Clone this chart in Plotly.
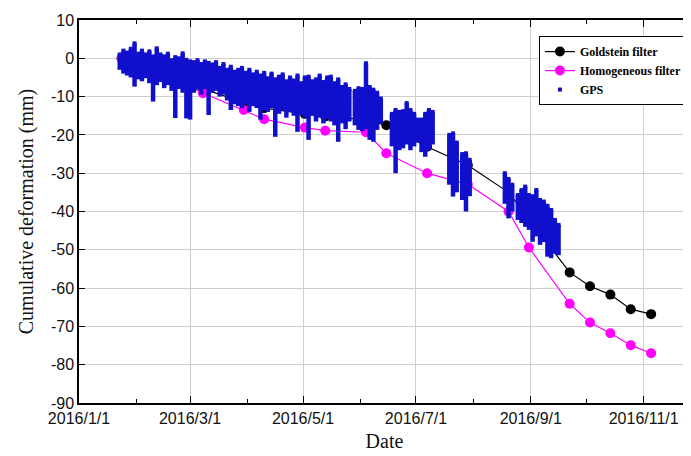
import pandas as pd
import plotly.graph_objects as go

# ---------------- data ----------------
sar_dates = ["2016-01-24", "2016-03-08", "2016-03-30", "2016-04-10", "2016-05-02",
             "2016-05-13", "2016-06-04", "2016-06-15", "2016-07-07", "2016-07-29",
             "2016-08-20", "2016-08-31", "2016-09-22", "2016-10-03", "2016-10-14",
             "2016-10-25", "2016-11-05"]
goldstein = [0.0, -8.0, -11.5, -13.0, -14.5, -15.2, -16.0, -17.5, -23.1, -27.9,
             -35.0, -42.0, -55.9, -59.5, -61.7, -65.5, -66.8]
homogeneous = [0.0, -9.1, -13.5, -15.9, -18.1, -18.9, -19.3, -24.8, -30.0, -32.9,
               -40.0, -49.4, -64.1, -69.0, -71.8, -74.9, -77.0]

# GPS daily spread: day offset from 2016-01-01, daily max and min (mm)
gps_day = [22, 24, 26, 28, 30, 32, 34, 36, 38, 40, 42, 44, 46, 48, 50, 52, 54, 56, 58, 60,
           62, 64, 66, 68, 70, 72, 74, 76, 78, 80, 82, 84, 86, 88, 90, 92, 94, 96, 98, 100,
           102, 104, 106, 108, 110, 112, 114, 116, 118, 120, 122, 124, 126, 128, 130, 132,
           134, 136, 138, 140, 142, 144, 146,
           149, 151, 153, 155, 157, 159, 161, 163,
           169, 171, 173, 175, 177, 179, 181, 183,
           185, 187, 189, 191,
           200, 202, 204, 207, 209, 211,
           230, 232, 234,
           237, 239, 241, 243, 245, 247, 249, 251, 253, 255, 257, 259]
gps_high = [1.0, 2.0, 1.5, 2.5, 3.9, 1.2, 2.0, 1.0, 1.8, 0.5, 2.6, 1.0, 0.5, 1.2, -0.5, 0.3,
            0.0, 1.3, -0.4, -0.8, -1.0, -0.5, -1.5, -0.8, -1.2, -1.6, -1.0, -2.5, -1.5, -3.0,
            -2.2, -3.5, -3.0, -2.5, -3.8, -3.0, -4.2, -3.5, -4.5, -3.8, -5.2, -4.0, -5.5, -4.8,
            -4.2, -6.0, -5.0, -5.8, -4.5, -6.5, -5.0, -4.8, -6.0, -5.5, -4.5, -6.2, -5.0, -4.8,
            -6.5, -5.5, -7.5, -6.8, -8.0,
            -8.5, -7.8, -8.0, -1.3, -7.5, -8.2, -9.0, -10.5,
            -14.5, -13.5, -14.0, -13.8, -11.7, -13.5, -14.5, -16.0,
            -16.0, -14.5, -13.5, -14.0,
            -20.0, -19.6, -22.0, -25.0, -24.8, -26.5,
            -30.0, -31.5, -33.0,
            -35.7, -34.4, -33.5, -35.7, -36.0, -34.4, -37.0, -37.4, -38.5, -39.6, -42.2, -43.5]
gps_low = [-3.0, -4.0, -4.5, -5.0, -7.4, -5.5, -6.0, -5.2, -6.5, -11.3, -7.0, -6.2, -7.8, -7.0,
           -8.5, -15.6, -8.0, -9.0, -15.7, -16.0, -9.0, -8.2, -9.5, -8.0, -14.8, -9.0, -8.5,
           -10.0, -9.5, -11.0, -13.5, -12.0, -12.5, -13.0, -12.0, -14.0, -12.5, -13.0, -16.0,
           -13.5, -14.0, -13.0, -20.5, -14.5, -13.5, -15.5, -14.0, -15.0, -19.2, -14.8, -15.5,
           -21.3, -15.0, -16.5, -15.5, -17.0, -15.8, -16.5, -17.5, -21.8, -17.0, -18.5, -16.5,
           -17.5, -18.7, -19.0, -18.5, -21.3, -21.8, -18.7, -17.0,
           -23.0, -30.0, -24.0, -23.5, -22.5, -24.0, -23.0, -22.0,
           -24.5, -25.7, -24.0, -22.5,
           -33.0, -36.1, -35.0, -37.0, -40.0, -36.0,
           -38.0, -41.8, -40.0,
           -42.2, -43.0, -44.0, -44.8, -47.9, -46.5, -48.7, -48.0, -51.8, -52.2, -51.0, -51.4]

x_tick_vals = ["2016-01-01", "2016-03-01", "2016-05-01", "2016-07-01", "2016-09-01", "2016-11-01"]
x_tick_text = ["2016/1/1", "2016/3/1", "2016/5/1", "2016/7/1", "2016/9/1", "2016/11/1"]
x_minor_vals = ["2016-02-01", "2016-04-01", "2016-06-01", "2016-08-01", "2016-10-01"]
y_tick_vals = [10, 0, -10, -20, -30, -40, -50, -60, -70, -80, -90]
y_tick_text = ["10", "0", "-10", "-20", "-30", "-40", "-50", "-60", "-70", "-80", "-90"]

# ---------------- figure ----------------
start = pd.Timestamp("2016-01-01")
gps_dates = [start + pd.Timedelta(days=d) for d in gps_day]
gps_span = [h - l for h, l in zip(gps_high, gps_low)]

BLUE = "#1010CC"
MAG = "#FF00FF"

fig = go.Figure()
fig.add_trace(go.Scatter(
    x=sar_dates, y=goldstein, name="<b>Goldstein filter</b>", mode="lines+markers",
    line=dict(color="black", width=1.2),
    marker=dict(color="black", size=10)))
fig.add_trace(go.Scatter(
    x=sar_dates, y=homogeneous, name="<b>Homogeneous filter</b>", mode="lines+markers",
    line=dict(color=MAG, width=1.2),
    marker=dict(color=MAG, size=10)))
fig.add_trace(go.Scatter(
    x=gps_dates, y=gps_high, name="<b>GPS</b>", mode="markers",
    marker=dict(color=BLUE, size=4, symbol="square"),
    error_y=dict(type="data", symmetric=False, array=[0] * len(gps_high),
                 arrayminus=gps_span, color=BLUE, thickness=4.5, width=0)))

tick_font = dict(family="Liberation Sans, Arial", size=16, color="#111")
title_font = dict(family="Liberation Serif, Times New Roman", size=20, color="#111")

# page body has an 8px margin, so the figure is sized/margined to land the
# plot area where the reference has it
fig.update_layout(
    width=683, height=448,
    margin=dict(l=71, r=1, t=12, b=53),
    paper_bgcolor="white", plot_bgcolor="white",
    showlegend=True,
    legend=dict(
        x=0.995, y=0.958, xanchor="right", yanchor="top",
        bgcolor="white", bordercolor="black", borderwidth=1,
        font=dict(family="Liberation Serif, Times New Roman", size=12, color="black"),
        tracegroupgap=0, itemwidth=30),
)
fig.update_xaxes(
    type="date", range=["2016-01-01", "2016-11-26"], automargin=False,
    tickmode="array", tickvals=x_tick_vals, ticktext=x_tick_text,
    ticks="inside", ticklen=7, tickwidth=1.2, tickcolor="black",
    minor=dict(tickmode="array", tickvals=x_minor_vals,
               ticks="inside", ticklen=4, tickcolor="black", showgrid=False),
    showline=True, linecolor="black", linewidth=1.5, mirror="ticks",
    showgrid=True, gridcolor="#cfcfcf", gridwidth=1,
    tickfont=tick_font, zeroline=False,
    title=dict(text="Date", font=title_font, standoff=8),
)
fig.update_yaxes(
    range=[-90, 10], automargin=False,
    tickmode="array", tickvals=y_tick_vals, ticktext=y_tick_text,
    ticks="inside", ticklen=6, tickwidth=1.2, tickcolor="black",
    showline=True, linecolor="black", linewidth=1.5, mirror="ticks",
    showgrid=True, gridcolor="#cfcfcf", gridwidth=1,
    tickfont=tick_font, zeroline=False,
    title=dict(text="Cumulative deformation (mm)", font=title_font, standoff=12),
)

fig.write_html("out.html")
